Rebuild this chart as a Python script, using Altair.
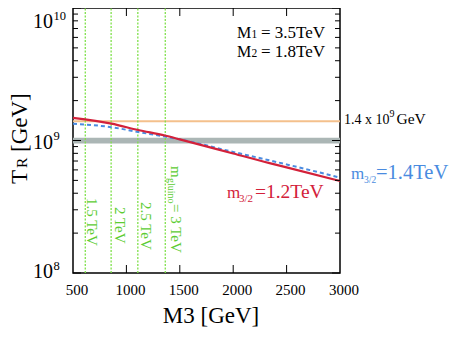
import altair as alt
import pandas as pd

SERIF = "Liberation Serif"

# ---- data ----
m3_pts = [500, 860, 1110, 1360, 1500, 2000, 2340, 2500, 3000]
tr_red = [1.48e9, 1.34e9, 1.20e9, 1.09e9, 1.02e9, 7.98e8, 6.75e8, 6.27e8, 4.95e8]
tr_blue = [1.34e9, 1.26e9, 1.16e9, 1.07e9, 1.02e9, 8.2e8, 7.08e8, 6.6e8, 5.25e8]

band_lo, band_hi = 0.95e9, 1.05e9
tr_limit = 1.4e9
gluino_m3 = [615, 857, 1107, 1364]
gluino_labels = ["1.5 TeV", "2 TeV", "2.5 TeV"]

x_ticks = [500, 1000, 1500, 2000, 2500, 3000]
x_tick_labels = ["500", "1000", "1500", "2000", "2500", "3000"]
y_major = [1e8, 1e9, 1e10]
y_minor = [k * 1e8 for k in range(2, 10)] + [k * 1e9 for k in range(2, 10)]
y_labels = [("10", "8"), ("10", "9"), ("10", "10")]

W, H = 267, 265
xs = alt.Scale(domain=[500, 3000], nice=False, zero=False)
ys = alt.Scale(type="log", domain=[1e8, 1e10], nice=False)

RED = "#d3213a"
BLUE = "#4a8be0"
GREEN_L = "#7fe04a"
GREEN_T = "#5ccc33"


def txt(s, x, y, size, color="black", align="left", angle=0):
    return alt.Chart(pd.DataFrame({"t": [s]})).mark_text(
        font=SERIF, fontSize=size, color=color, align=align,
        baseline="alphabetic", angle=angle
    ).encode(x=alt.value(x), y=alt.value(y), text="t:N")


layers = []

# band
band_df = pd.DataFrame({"x0": [500], "x1": [3000], "lo": [band_lo], "hi": [band_hi]})
layers.append(alt.Chart(band_df).mark_rect(color="#abb6b5").encode(
    x=alt.X("x0:Q", scale=xs, axis=None), x2="x1:Q",
    y=alt.Y("lo:Q", scale=ys, axis=None), y2="hi:Q"))

# orange limit line
lim_df = pd.DataFrame({"x0": [500], "x1": [3000], "v": [tr_limit]})
layers.append(alt.Chart(lim_df).mark_rule(color="#f4c08c", strokeWidth=2).encode(
    x=alt.X("x0:Q", scale=xs, axis=None), x2="x1:Q",
    y=alt.Y("v:Q", scale=ys, axis=None)))

# gluino dotted lines
gl_df = pd.DataFrame({"m": gluino_m3, "lo": [1e8] * 4, "hi": [1e10] * 4})
layers.append(alt.Chart(gl_df).mark_rule(color=GREEN_L, strokeWidth=1.3,
                                          strokeDash=[2, 1.5]).encode(
    x=alt.X("m:Q", scale=xs, axis=None),
    y=alt.Y("lo:Q", scale=ys, axis=None), y2="hi:Q"))

# curves
blue_df = pd.DataFrame({"m": m3_pts, "tr": tr_blue})
red_df = pd.DataFrame({"m": m3_pts, "tr": tr_red})
layers.append(alt.Chart(blue_df).mark_line(color=BLUE, strokeWidth=2,
                                            strokeDash=[4, 3],
                                            interpolate="monotone").encode(
    x=alt.X("m:Q", scale=xs, axis=None), y=alt.Y("tr:Q", scale=ys, axis=None)))
layers.append(alt.Chart(red_df).mark_line(color=RED, strokeWidth=2.2,
                                           interpolate="monotone").encode(
    x=alt.X("m:Q", scale=xs, axis=None), y=alt.Y("tr:Q", scale=ys, axis=None)))

# inward ticks
maj_df = pd.DataFrame({"v": y_major})
min_df = pd.DataFrame({"v": y_minor})
xt_df = pd.DataFrame({"v": x_ticks[1:-1]})
for df, ln in ((maj_df, 8), (min_df, 5)):
    layers.append(alt.Chart(df).mark_rule(color="black", strokeWidth=1).encode(
        y=alt.Y("v:Q", scale=ys, axis=None), x=alt.value(0), x2=alt.value(ln)))
    layers.append(alt.Chart(df).mark_rule(color="black", strokeWidth=1).encode(
        y=alt.Y("v:Q", scale=ys, axis=None), x=alt.value(W), x2=alt.value(W - ln)))
layers.append(alt.Chart(xt_df).mark_rule(color="black", strokeWidth=1).encode(
    x=alt.X("v:Q", scale=xs, axis=None), y=alt.value(0), y2=alt.value(8)))
layers.append(alt.Chart(xt_df).mark_rule(color="black", strokeWidth=1).encode(
    x=alt.X("v:Q", scale=xs, axis=None), y=alt.value(H), y2=alt.value(H - 8)))

# x tick labels
xl_df = pd.DataFrame({"v": x_ticks, "t": x_tick_labels})
layers.append(alt.Chart(xl_df).mark_text(font=SERIF, fontSize=15, color="black",
                                          align="center", baseline="alphabetic",
                                          dx=4).encode(
    x=alt.X("v:Q", scale=xs, axis=None), y=alt.value(H + 22), text="t:N"))

# y tick labels 10^n
y_dy = [5, 8, 20]
for (base, sup), val, dy in zip(y_labels, y_major, y_dy):
    d = pd.DataFrame({"v": [val], "b": [base], "s": [sup]})
    layers.append(alt.Chart(d).mark_text(font=SERIF, fontSize=20, align="right",
                                         baseline="alphabetic", dy=dy,
                                         color="black").encode(
        y=alt.Y("v:Q", scale=ys, axis=None), x=alt.value(-20), text="b:N"))
    layers.append(alt.Chart(d).mark_text(font=SERIF, fontSize=12.5, align="left",
                                         baseline="alphabetic", dy=dy - 8.5,
                                         color="black").encode(
        y=alt.Y("v:Q", scale=ys, axis=None), x=alt.value(-19.5), text="s:N"))

# gluino labels (rotated)
g_start = [190, 199, 194]
g_dy = [-1.5, -3.5, -3.5]
for m, lab, ys0, dy in zip(gluino_m3[:3], gluino_labels, g_start, g_dy):
    d = pd.DataFrame({"m": [m], "t": [lab]})
    layers.append(alt.Chart(d).mark_text(font=SERIF, fontSize=15, color=GREEN_T,
                                         align="left", baseline="alphabetic",
                                         angle=90, dy=dy).encode(
        x=alt.X("m:Q", scale=xs, axis=None), y=alt.value(ys0), text="t:N"))
g3 = [("m", 158, 15, -6), ("gluino", 170, 10, -3), ("= 3 TeV", 196, 15, -6)]
for s, y0, sz, dy in g3:
    d = pd.DataFrame({"m": [gluino_m3[3]], "t": [s]})
    layers.append(alt.Chart(d).mark_text(font=SERIF, fontSize=sz, color=GREEN_T,
                                         align="left", baseline="alphabetic",
                                         angle=90, dy=dy).encode(
        x=alt.X("m:Q", scale=xs, axis=None), y=alt.value(y0), text="t:N"))

# 1.4 x 10^9 GeV label
lab_parts = [("1.4 x 10", 271, 14, 3), ("9", 316.5, 10, -4), ("GeV", 323.5, 15.5, 3)]
for s, x0, sz, dy in lab_parts:
    d = pd.DataFrame({"v": [tr_limit], "t": [s]})
    layers.append(alt.Chart(d).mark_text(font=SERIF, fontSize=sz, color="black",
                                         align="left", baseline="alphabetic",
                                         dy=dy).encode(
        y=alt.Y("v:Q", scale=ys, axis=None), x=alt.value(x0), text="t:N"))

# M1, M2 labels
layers += [
    txt("M", 164, 29.5, 16), txt("1", 178.5, 29.5, 11.5), txt("= 3.5TeV", 188, 29.5, 17),
    txt("M", 164, 49, 16), txt("2", 178.5, 49, 11.5), txt("= 1.8TeV", 188, 49, 17),
]

# curve labels
layers += [
    txt("m", 154, 190, 17, RED), txt("3/2", 166, 194, 11, RED), txt("=1.2TeV", 182, 190, 19.5, RED),
    txt("m", 278, 171, 17, BLUE), txt("3/2", 291, 174.5, 9.5, BLUE), txt("=1.4TeV", 303, 171, 20.5, BLUE),
]

# axis titles
layers += [
    txt("M3 [GeV]", 138, 315, 23, align="center"),
    txt("T", -46, 176, 23, angle=270),
    txt("R", -46, 160, 15.5, angle=270),
    txt("[GeV]", -46, 144, 23, angle=270),
]

chart = alt.layer(*layers).properties(
    width=W, height=H,
    autosize=alt.AutoSizeParams(type="none"),
    padding={"left": 65, "top": 0, "right": 110, "bottom": 83},
).configure_view(stroke="black", strokeWidth=1.5).configure_axis(grid=False)

chart.save("out.html", embed_options={"renderer": "svg", "actions": False})
